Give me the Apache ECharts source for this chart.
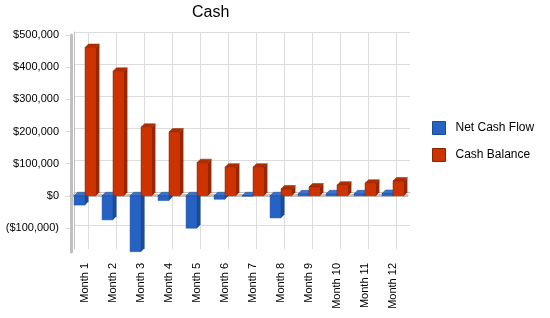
<!DOCTYPE html>
<html>
<head>
<meta charset="utf-8">
<script src="https://cdn.jsdelivr.net/npm/echarts@6/dist/echarts.min.js"></script>
<style>
  html, body { margin: 0; padding: 0; background: #fff; }
  #chart { width: 550px; height: 318px; }
</style>
</head>
<body>
<div id="chart"></div>
<script>
  // data
  const months = ['Month 1', 'Month 2', 'Month 3', 'Month 4', 'Month 5', 'Month 6',
                  'Month 7', 'Month 8', 'Month 9', 'Month 10', 'Month 11', 'Month 12'];
  const netCashFlow = [-29000, -75000, -174000, -15000, -101000, -11000, -1000, -69000, 6000, 6000, 6000, 7000];
  const cashBalance = [461000, 387000, 213000, 198000, 103000, 89000, 89000, 21000, 27000, 33000, 39000, 46000];
  const seriesNames = ['Net Cash Flow', 'Cash Balance'];

  const FONT = 'Liberation Sans';
  const GRID_LINE = '#dcdcdc';
  const WALL = '#c0c0c0';
  const DEPTH = 3.5;

  const palette = [
    { front: '#2562c3', side: '#1b4a94', top: '#3a74cf', edge: '#1b4a94' },
    { front: '#cc3300', side: '#992600', top: '#b32d00', edge: '#8c2200' }
  ];

  function money (v) {
    const s = '$' + Math.abs(v).toLocaleString('en-US');
    return v < 0 ? '(' + s + ')' : s;
  }

  // 3d-ish bar: front face, top face and right side
  function makeBar (idx) {
    return function (params, api) {
      const i = api.value(0);
      const v = api.value(1);
      const cs = params.coordSys;
      const base = api.coord([i, 0]);
      const tip = api.coord([i, v]);
      const bw = api.size([1, 0])[0] * 0.39;
      const x0 = base[0] + (idx === 0 ? -bw : 0);
      const x1 = x0 + bw;
      const clamp = y => Math.max(cs.y, Math.min(cs.y + cs.height, y));
      const yTop = clamp(Math.min(base[1], tip[1]));
      const yBot = clamp(Math.max(base[1], tip[1]));
      const c = palette[idx];
      return {
        type: 'group',
        children: [
          {
            type: 'polygon',
            shape: { points: [[x1, yTop], [x1 + DEPTH, yTop - DEPTH], [x1 + DEPTH, yBot - DEPTH], [x1, yBot]] },
            style: { fill: c.side }
          },
          {
            type: 'polygon',
            shape: { points: [[x0, yTop], [x0 + DEPTH, yTop - DEPTH], [x1 + DEPTH, yTop - DEPTH], [x1, yTop]] },
            style: { fill: c.top, stroke: c.edge, lineWidth: 0.5 }
          },
          {
            type: 'rect',
            shape: { x: x0, y: yTop, width: bw, height: yBot - yTop },
            style: { fill: c.front, stroke: c.edge, lineWidth: 0.5 }
          }
        ]
      };
    };
  }

  const chart = echarts.init(document.getElementById('chart'), null, { renderer: 'canvas' });

  const option = {
    animation: false,
    backgroundColor: '#fff',
    title: {
      text: 'Cash',
      left: 192,
      top: 5,
      padding: 0,
      textStyle: { fontFamily: FONT, fontSize: 16, fontWeight: 'normal', color: '#000' }
    },
    legend: {
      orient: 'vertical',
      left: 432,
      top: 121,
      padding: 0,
      itemWidth: 13,
      itemHeight: 13,
      itemGap: 13,
      icon: 'rect',
      data: [
        { name: seriesNames[0], itemStyle: { color: palette[0].front, borderColor: palette[0].edge, borderWidth: 1 } },
        { name: seriesNames[1], itemStyle: { color: palette[1].front, borderColor: palette[1].edge, borderWidth: 1 } }
      ],
      textStyle: { fontFamily: FONT, fontSize: 12, color: '#000', padding: [0, 0, 0, 5] }
    },
    grid: [
      // front: bars, month labels, walls
      { left: 71, top: 35, width: 336, height: 217 },
      // back wall: grid lines
      { left: 74, top: 32, width: 336, height: 217 },
      // value labels and ticks
      { left: 71, top: 35, width: 336, height: 193 }
    ],
    xAxis: [
      {
        type: 'category',
        gridIndex: 0,
        data: months,
        axisLine: { lineStyle: { color: WALL, width: 3 } },
        axisTick: { alignWithLabel: true, length: 5, lineStyle: { color: WALL } },
        axisLabel: { rotate: 90, margin: 11, fontFamily: FONT, fontSize: 11, color: '#000' },
        z: 1
      },
      {
        type: 'value',
        gridIndex: 1,
        position: 'top',
        min: 0,
        max: 24,
        interval: 1,
        axisLabel: { show: false },
        axisTick: { show: false },
        axisLine: { show: true, lineStyle: { color: WALL, width: 1 } },
        splitLine: { show: true, lineStyle: { color: ['rgba(0,0,0,0)', GRID_LINE], width: 1 } }
      },
      {
        type: 'value',
        gridIndex: 2,
        show: false
      }
    ],
    yAxis: [
      {
        type: 'value',
        gridIndex: 0,
        min: -175000,
        max: 500000,
        axisLine: { show: true, lineStyle: { color: WALL, width: 3 } },
        axisTick: { show: false },
        axisLabel: { show: false },
        splitLine: { show: false },
        z: 1
      },
      {
        type: 'value',
        gridIndex: 1,
        position: 'right',
        min: -175000,
        max: 500000,
        interval: 25000,
        axisLine: { show: true, lineStyle: { color: WALL, width: 1 } },
        axisTick: { show: false },
        axisLabel: { show: false },
        splitLine: {
          show: true,
          lineStyle: { color: ['rgba(0,0,0,0)', 'rgba(0,0,0,0)', 'rgba(0,0,0,0)', GRID_LINE], width: 1 }
        }
      },
      {
        type: 'value',
        gridIndex: 2,
        min: -100000,
        max: 500000,
        interval: 100000,
        axisLine: { show: false },
        axisTick: { show: true, length: 6, lineStyle: { color: GRID_LINE } },
        axisLabel: { margin: 12, fontFamily: FONT, fontSize: 11, color: '#000', formatter: money },
        splitLine: { show: false }
      }
    ],
    series: [
      {
        name: seriesNames[0],
        type: 'custom',
        xAxisIndex: 0,
        yAxisIndex: 0,
        renderItem: makeBar(0),
        itemStyle: { color: palette[0].front },
        data: netCashFlow.map((v, i) => [i, v]),
        z: 3
      },
      {
        name: seriesNames[1],
        type: 'custom',
        xAxisIndex: 0,
        yAxisIndex: 0,
        renderItem: makeBar(1),
        itemStyle: { color: palette[1].front },
        data: cashBalance.map((v, i) => [i, v]),
        z: 4
      }
    ]
  };

  chart.setOption(option);
</script>
</body>
</html>
